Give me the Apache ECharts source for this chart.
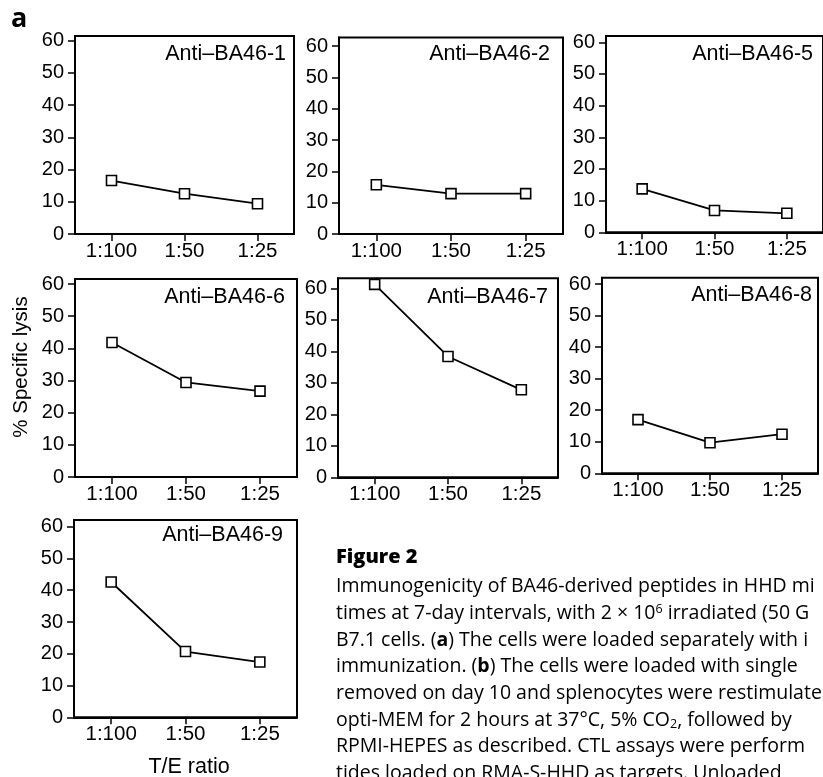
<!DOCTYPE html>
<html>
<head>
<meta charset="utf-8">
<script src="https://cdn.jsdelivr.net/npm/echarts@6/dist/echarts.min.js"></script>
<style>
html,body{margin:0;padding:0;background:#fff;}
#chart{width:823px;height:777px;}
</style>
</head>
<body>
<div id="chart"></div>
<script>
// ---- data ----
const categories = ['1:100', '1:50', '1:25'];
const yTicks = [0, 10, 20, 30, 40, 50, 60];
const panelTitles = ['Anti–BA46-1', 'Anti–BA46-2', 'Anti–BA46-5', 'Anti–BA46-6', 'Anti–BA46-7', 'Anti–BA46-8', 'Anti–BA46-9'];
const ba46_1 = [16.6, 12.5, 9.4];
const ba46_2 = [15.7, 12.9, 12.9];
const ba46_5 = [13.7, 6.9, 6.0];
const ba46_6 = [41.8, 29.4, 26.7];
const ba46_7 = [61.3, 38.4, 27.8];
const ba46_8 = [17.0, 9.7, 12.4];
const ba46_9 = [42.6, 20.7, 17.4];
const seriesValues = [ba46_1, ba46_2, ba46_5, ba46_6, ba46_7, ba46_8, ba46_9];
const yAxisTitle = '% Specific lysis';
const xAxisTitle = 'T/E ratio';
const panelLetter = 'a';
const captionHead = 'Figure 2';
const captionLines = [
  '{n|Immunogenicity of BA46-derived peptides in HHD mi}',
  '{n|times at 7-day intervals, with 2 × 10}{s|6}{n| irradiated (50 G}',
  '{n|B7.1 cells. (}{b|a}{n|) The cells were loaded separately with i}',
  '{n|immunization. (}{b|b}{n|) The cells were loaded with single}',
  '{n|removed on day 10 and splenocytes were restimulate}',
  '{n|opti-MEM for 2 hours at 37°C, 5% CO}{u|2}{n|, followed by}',
  '{n|RPMI-HEPES as described. CTL assays were perform}',
  '{n|tides loaded on RMA-S-HHD as targets. Unloaded}'
];

// ---- layout (pixels) ----
const layout = [
  {left: 75,  top: 36,    width: 219, y0: 234,   y60: 40.7,  tx: 286, ty: 54},
  {left: 339, top: 37.5,  width: 224, y0: 234,   y60: 46,    tx: 550, ty: 54},
  {left: 606, top: 36,    width: 223, y0: 232.3, y60: 42.3,  tx: 813, ty: 54},
  {left: 75,  top: 279,   width: 222, y0: 477,   y60: 284,   tx: 285, ty: 297},
  {left: 338, top: 278.3, width: 220, y0: 477.3, y60: 288.5, tx: 548, ty: 297},
  {left: 602, top: 277.7, width: 216, y0: 473.3, y60: 284,   tx: 812, ty: 295},
  {left: 74,  top: 520,   width: 223, y0: 717.3, y60: 526.7, tx: 283, ty: 535}
];

const FONT = '"Liberation Sans", Arial, Helvetica, sans-serif';
const CAPF = '"Open Sans", Lato, sans-serif';
const grids = [], xAxes = [], yAxes = [], series = [], graphics = [];

layout.forEach((L, i) => {
  const h = L.y0 - L.top;
  const ymax = 60 * h / (L.y0 - L.y60);
  grids.push({
    left: L.left, top: L.top, width: L.width, height: h,
    show: true, borderColor: '#000', borderWidth: 2, backgroundColor: 'transparent',
    containLabel: false
  });
  xAxes.push({
    type: 'category', gridIndex: i, data: categories, boundaryGap: true,
    axisLine: {show: true, lineStyle: {color: '#000', width: 2}},
    axisTick: {show: true, alignWithLabel: true, length: 7, lineStyle: {color: '#000', width: 1.5}},
    axisLabel: {color: '#000', fontFamily: FONT, fontSize: 20.5, margin: 7},
    splitLine: {show: false}
  });
  yAxes.push({
    type: 'value', gridIndex: i, min: 0, max: ymax,
    axisLine: {show: true, lineStyle: {color: '#000', width: 2}},
    axisTick: {show: true, length: 7, customValues: yTicks, lineStyle: {color: '#000', width: 1.5}},
    axisLabel: {color: '#000', fontFamily: FONT, fontSize: 20, margin: 11, customValues: yTicks},
    splitLine: {show: false}
  });
  series.push({
    type: 'line', xAxisIndex: i, yAxisIndex: i, data: seriesValues[i],
    symbol: 'rect', symbolSize: 10,
    itemStyle: {color: '#fff', borderColor: '#000', borderWidth: 1.6},
    lineStyle: {color: '#000', width: 1.8},
    z: 3
  });
  graphics.push({
    type: 'text', x: L.tx, y: L.ty,
    style: {text: panelTitles[i], fill: '#000', font: '21.5px ' + FONT, textAlign: 'right', textVerticalAlign: 'middle'}
  });
});

graphics.push({
  type: 'text', x: 21, y: 367, rotation: Math.PI / 2,
  style: {text: yAxisTitle, fill: '#000', font: '20.5px ' + FONT, textAlign: 'center', textVerticalAlign: 'middle'}
});
graphics.push({
  type: 'text', x: 189, y: 767,
  style: {text: xAxisTitle, fill: '#000', font: '21.5px ' + FONT, textAlign: 'center', textVerticalAlign: 'middle'}
});
graphics.push({
  type: 'text', x: 11, y: 19,
  style: {text: panelLetter, fill: '#000', font: 'bold 27px ' + CAPF, textAlign: 'left', textVerticalAlign: 'middle'}
});
graphics.push({
  type: 'text', x: 336, y: 557,
  style: {text: captionHead, fill: '#000', font: '800 20px ' + CAPF, textAlign: 'left', textVerticalAlign: 'middle'}
});
captionLines.forEach((t, k) => {
  graphics.push({
    type: 'text', x: 336, y: 586.7 + 26.7 * k,
    style: {
      text: t, fill: '#000', textAlign: 'left', textVerticalAlign: 'middle',
      rich: {
        n: {fontFamily: CAPF, fontSize: 19.5, fill: '#000'},
        b: {fontFamily: CAPF, fontSize: 19.5, fontWeight: 'bold', fill: '#000'},
        s: {fontFamily: CAPF, fontSize: 12.5, fill: '#000', verticalAlign: 'top', padding: [0, 0, 8, 0]},
        u: {fontFamily: CAPF, fontSize: 12.5, fill: '#000', padding: [8, 0, 0, 0]}
      }
    }
  });
});

const chart = echarts.init(document.getElementById('chart'), null, {renderer: 'canvas'});
chart.setOption({
  animation: false,
  backgroundColor: '#fff',
  grid: grids, xAxis: xAxes, yAxis: yAxes, series: series,
  graphic: graphics
});
</script>
</body>
</html>
